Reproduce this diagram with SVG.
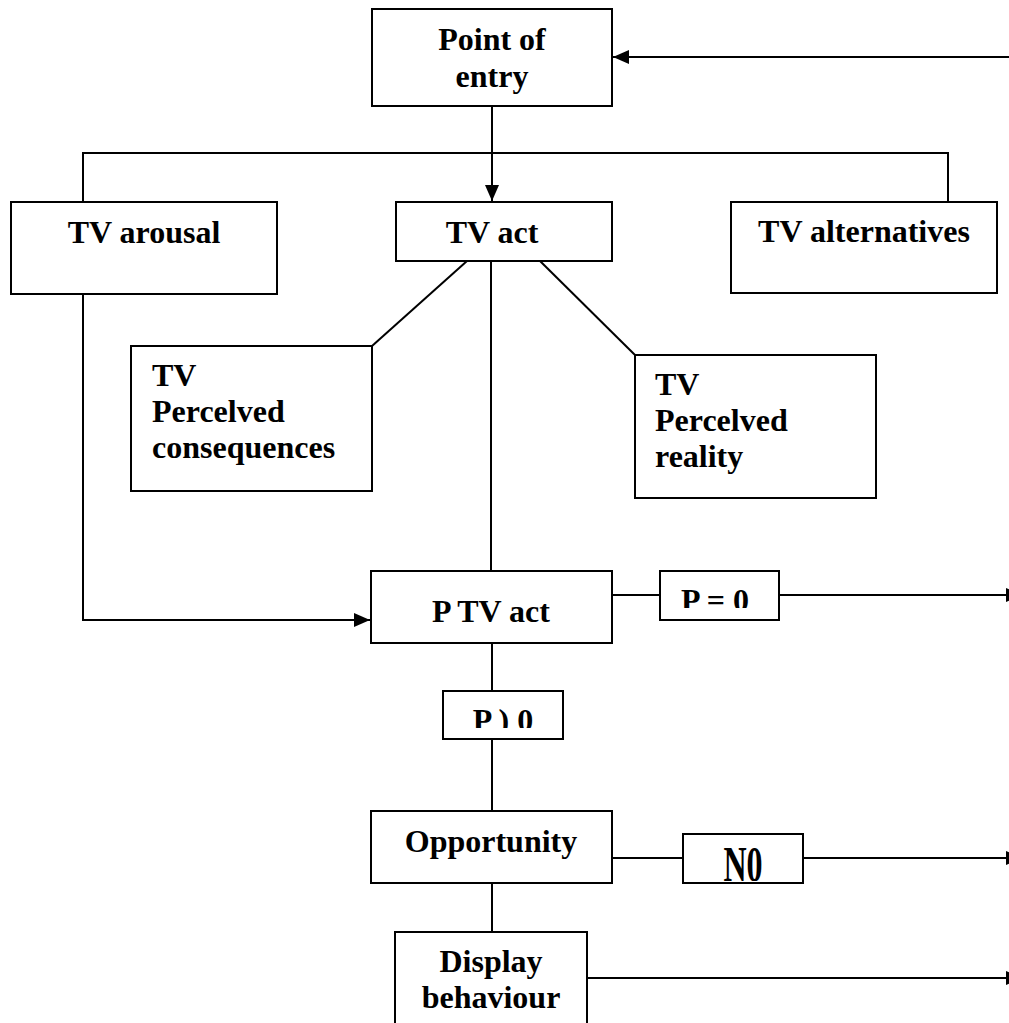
<svg xmlns="http://www.w3.org/2000/svg" width="1009" height="1023" viewBox="0 0 1009 1023">
<style>
.box{fill:#fff;stroke:#000;stroke-width:2}
.ln{fill:none;stroke:#000;stroke-width:2}
.t{font-family:"Liberation Serif","Times New Roman",serif;font-weight:bold;font-size:32px;fill:#000}
.c{text-anchor:middle}
</style>
<defs>
<marker id="arr" markerUnits="userSpaceOnUse" markerWidth="17" markerHeight="15" refX="16" refY="7" orient="auto">
<path d="M0,0 L16,7 L0,14 z" fill="#000"/>
</marker>
<clipPath id="cp0"><rect x="660" y="571" width="119" height="37"/></clipPath>
<clipPath id="cp1"><rect x="443" y="691" width="120" height="37"/></clipPath>
<clipPath id="cp2"><rect x="683" y="834" width="120" height="47"/></clipPath>
</defs>
<rect width="1009" height="1023" fill="#fff"/>
<g id="connectors">
<line class="ln" x1="1012" y1="57" x2="613" y2="57" marker-end="url(#arr)"/>
<line class="ln" x1="492" y1="106" x2="492" y2="201" marker-end="url(#arr)"/>
<polyline class="ln" points="83,202 83,153 948,153 948,202"/>
<line class="ln" x1="467" y1="261" x2="372" y2="346"/>
<line class="ln" x1="540" y1="261" x2="635" y2="355"/>
<line class="ln" x1="491" y1="261" x2="491" y2="571"/>
<polyline class="ln" points="83,294 83,620 370,620" marker-end="url(#arr)"/>
<line class="ln" x1="612" y1="595" x2="660" y2="595"/>
<line class="ln" x1="779" y1="595" x2="1022" y2="595" marker-end="url(#arr)"/>
<line class="ln" x1="492" y1="643" x2="492" y2="691"/>
<line class="ln" x1="492" y1="739" x2="492" y2="811"/>
<line class="ln" x1="612" y1="858" x2="683" y2="858"/>
<line class="ln" x1="803" y1="858" x2="1022" y2="858" marker-end="url(#arr)"/>
<line class="ln" x1="492" y1="883" x2="492" y2="932"/>
<line class="ln" x1="587" y1="978" x2="1022" y2="978" marker-end="url(#arr)"/>
</g>
<g id="point-of-entry">
<rect class="box" x="372" y="9" width="240" height="97"/>
<text class="t c" x="492" y="50">Point of</text>
<text class="t c" x="492" y="87">entry</text>
</g>
<g id="tv-arousal">
<rect class="box" x="11" y="202" width="266" height="92"/>
<text class="t c" x="144" y="243">TV arousal</text>
</g>
<g id="tv-act">
<rect class="box" x="396" y="202" width="216" height="59"/>
<text class="t c" x="492" y="243">TV act</text>
</g>
<g id="tv-alternatives">
<rect class="box" x="731" y="202" width="266" height="91"/>
<text class="t c" x="864" y="242">TV alternatives</text>
</g>
<g id="tv-perceived-consequences">
<rect class="box" x="131" y="346" width="241" height="145"/>
<text class="t" x="152" y="386">TV</text>
<text class="t" x="152" y="422">Percelved</text>
<text class="t" x="152" y="458">consequences</text>
</g>
<g id="tv-perceived-reality">
<rect class="box" x="635" y="355" width="241" height="143"/>
<text class="t" x="655" y="395">TV</text>
<text class="t" x="655" y="431">Percelved</text>
<text class="t" x="655" y="467">reality</text>
</g>
<g id="p-tv-act">
<rect class="box" x="371" y="571" width="241" height="72"/>
<text class="t c" x="491" y="622">P TV act</text>
</g>
<g id="p-eq-0">
<rect class="box" x="660" y="571" width="119" height="49"/>
<text class="t c" x="715" y="611" clip-path="url(#cp0)">P = 0</text>
</g>
<g id="p-gt-0">
<rect class="box" x="443" y="691" width="120" height="48"/>
<text class="t c" x="503" y="731" clip-path="url(#cp1)">P ) 0</text>
</g>
<g id="opportunity">
<rect class="box" x="371" y="811" width="241" height="72"/>
<text class="t c" x="491" y="852">Opportunity</text>
</g>
<g id="no">
<rect class="box" x="683" y="834" width="120" height="49"/>
<g clip-path="url(#cp2)"><text class="t c" transform="translate(743,847) scale(1,1.6)" x="0" y="21">N0</text></g>
</g>
<g id="display-behaviour">
<rect class="box" x="395" y="932" width="192" height="100"/>
<text class="t c" x="491" y="972">Display</text>
<text class="t c" x="491" y="1008">behaviour</text>
</g>
</svg>
